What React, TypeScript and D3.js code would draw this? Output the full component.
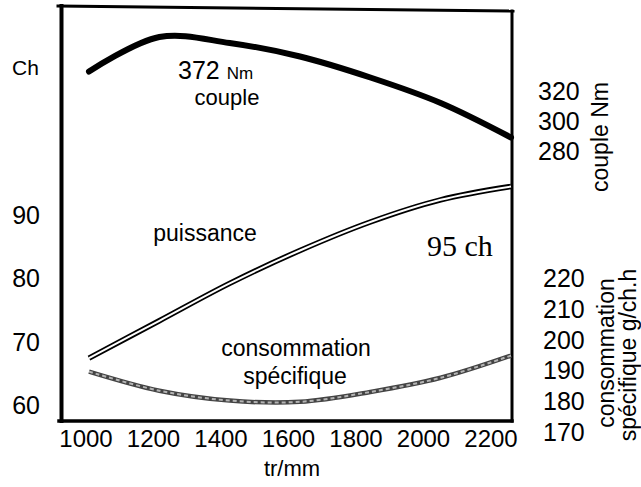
import * as d3 from "d3";
import React from "react";

// engine curves
const rpm = [1000, 1200, 1400, 1600, 1800, 2000, 2200];
const couple = [333, 356, 352, 343, 329, 312, 289];
const puissance = [67.4, 73.3, 79.2, 84.4, 88.9, 92.4, 94.5];
const conso = [189.6, 183.4, 180.2, 179.8, 183.0, 187.6, 194.8];

const rpmTicks = [1000, 1200, 1400, 1600, 1800, 2000, 2200];
const chTicks = [60, 70, 80, 90];
const coupleTicks = [280, 300, 320];
const consoTicks = [170, 180, 190, 200, 210, 220];

const W = 641;
const H = 487;
const SANS = "'Liberation Sans', Arial, Helvetica, sans-serif";
const SERIF = "'Liberation Serif', 'Times New Roman', serif";

const x = d3.scaleLinear().domain([1000, 2200]).range([89, 511]);
const xLabel = d3.scaleLinear().domain([1000, 2200]).range([86, 491]);
const yCh = d3.scaleLinear().domain([60, 90]).range([405, 215]);
const yCouple = d3.scaleLinear().domain([280, 320]).range([151, 91]);
const yConso = d3.scaleLinear().domain([170, 220]).range([432, 278]);

const makeLine = (y: d3.ScaleLinear<number, number>, vals: number[]) =>
  d3
    .line<number>()
    .x((_, i) => x(rpm[i]))
    .y((d) => y(d))
    .curve(d3.curveCatmullRom.alpha(0.5))(vals) || "";

const App: React.FC = () => {
  const coupleD = makeLine(yCouple, couple);
  const puisD = makeLine(yCh, puissance);
  const consoD = makeLine(yConso, conso);

  return (
    <svg
      width={W}
      height={H}
      style={{ position: "absolute", left: 0, top: 0, background: "#fff" }}
    >
      <rect width={W} height={H} fill="#fff" />

      {/* frame */}
      <g stroke="#000" strokeLinecap="square">
        <line x1={58} y1={6} x2={513} y2={11} strokeWidth={3} />
        <line x1={61.5} y1={6} x2={61.5} y2={421} strokeWidth={4} />
        <line x1={59} y1={421} x2={512} y2={421} strokeWidth={3.5} />
        <line x1={512} y1={11} x2={512} y2={421} strokeWidth={3} />
      </g>

      {/* curves */}
      <path d={coupleD} fill="none" stroke="#000" strokeWidth={6} strokeLinecap="round" />
      <path d={puisD} fill="none" stroke="#000" strokeWidth={5.5} />
      <path d={puisD} fill="none" stroke="#fff" strokeWidth={2} />
      <path d={consoD} fill="none" stroke="#444" strokeWidth={4.5} />
      <path
        d={consoD}
        fill="none"
        stroke="#fff"
        strokeWidth={2}
        strokeDasharray="4 3"
        opacity={0.6}
      />

      {/* left axis */}
      <g fontFamily={SANS} fontSize={25} fill="#000" textAnchor="end">
        {chTicks.map((t) => (
          <text key={t} x={40} y={yCh(t)} dy="0.36em">
            {t}
          </text>
        ))}
      </g>
      <text x={12} y={75} fontFamily={SANS} fontSize={21} fill="#000">
        Ch
      </text>

      {/* bottom axis */}
      <g fontFamily={SANS} fontSize={24} fill="#000" textAnchor="middle">
        {rpmTicks.map((t) => (
          <text key={t} x={xLabel(t)} y={447}>
            {t}
          </text>
        ))}
      </g>
      <text x={292} y={476} fontFamily={SANS} fontSize={22} textAnchor="middle">
        tr/mm
      </text>

      {/* right axes */}
      <g fontFamily={SANS} fontSize={25} fill="#000" textAnchor="start">
        {coupleTicks.map((t) => (
          <text key={t} x={538} y={yCouple(t)} dy="0.36em">
            {t}
          </text>
        ))}
        {consoTicks.map((t) => (
          <text key={t} x={543} y={yConso(t)} dy="0.36em">
            {t}
          </text>
        ))}
      </g>
      <g fontFamily={SANS} fontSize={23} fill="#000" textAnchor="middle">
        <text transform="translate(608,137) rotate(-90)">couple Nm</text>
        <text transform="translate(614,353) rotate(-90)">consommation</text>
        <text transform="translate(636,355) rotate(-90)">spécifique g/ch.h</text>
      </g>

      {/* in-plot labels */}
      <g fontFamily={SANS} fill="#000">
        <text x={178} y={79} fontSize={25}>
          372
          <tspan dx={7} fontSize={17}>
            Nm
          </tspan>
        </text>
        <text x={227} y={105} fontSize={22} textAnchor="middle">
          couple
        </text>
        <text x={205} y={241} fontSize={23} textAnchor="middle">
          puissance
        </text>
        <text x={296} y={356} fontSize={23} textAnchor="middle">
          consommation
        </text>
        <text x={295} y={384} fontSize={23} textAnchor="middle">
          spécifique
        </text>
      </g>
      <text x={427} y={256} fontFamily={SERIF} fontSize={30} fill="#000">
        95 ch
      </text>
    </svg>
  );
};

export default App;
